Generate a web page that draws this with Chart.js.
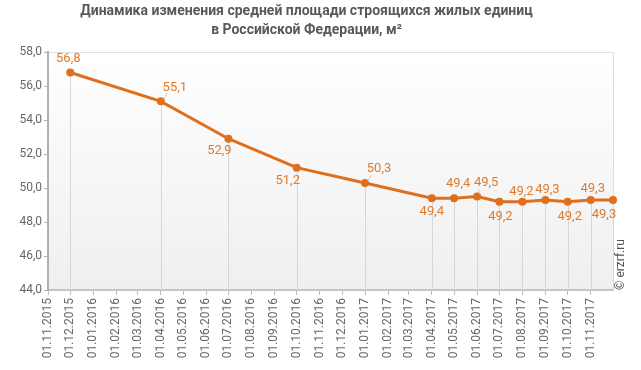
<!DOCTYPE html>
<html lang="ru">
<head>
    <meta charset="UTF-8">
    <title>Динамика изменения средней площади</title>
    <script src="https://cdn.jsdelivr.net/npm/chart.js"></script>
    <style>
        html, body { margin: 0; padding: 0; background: #fff; }
        .wrap { width: 641px; height: 370px; position: relative; }
    </style>
</head>
<body>
    <div class="wrap">
        <canvas id="chart" width="641" height="370"></canvas>
    </div>

    <script>
        // Data
        const tickDates = ['01.11.2015', '01.12.2015', '01.01.2016', '01.02.2016', '01.03.2016', '01.04.2016',
            '01.05.2016', '01.06.2016', '01.07.2016', '01.08.2016', '01.09.2016', '01.10.2016', '01.11.2016',
            '01.12.2016', '01.01.2017', '01.02.2017', '01.03.2017', '01.04.2017', '01.05.2017', '01.06.2017',
            '01.07.2017', '01.08.2017', '01.09.2017', '01.10.2017', '01.11.2017'];
        const pointDates = ['01.12.2015', '01.04.2016', '01.07.2016', '01.10.2016', '01.01.2017', '01.04.2017',
            '01.05.2017', '01.06.2017', '01.07.2017', '01.08.2017', '01.09.2017', '01.10.2017', '01.11.2017', '01.12.2017'];
        const avgArea = [56.8, 55.1, 52.9, 51.2, 50.3, 49.4, 49.4, 49.5, 49.2, 49.2, 49.3, 49.2, 49.3, 49.3];
        const yTicks = [44, 46, 48, 50, 52, 54, 56, 58];

        // label placement offsets (px from the point), and whether a leader line is drawn
        const labelOffsets = [[-2, -14], [14, -14], [-9, 12], [-9, 13], [14, -14], [0, 14], [4, -14], [9, -14],
            [1, 15], [-1, -10], [2, -10], [2, 15], [2, -11], [-9, 15]];
        const leaderLines = [false, true, false, false, true, false, false, true, false, false, false, false, false, false];

        const startDate = '01.11.2015';
        const endDate = '01.12.2017';

        function dayNum(s) {
            const p = s.split('.');
            return Date.UTC(+p[2], +p[1] - 1, +p[0]) / 86400000;
        }
        const points = pointDates.map((d, i) => ({ x: dayNum(d), y: avgArea[i] }));
        const fmt = v => v.toFixed(1).replace('.', ',');

        const orange = '#e06f1c';
        const labelColor = '#e07b2b';

        // background gradient + frame
        const panelPlugin = {
            id: 'panel',
            beforeDraw(chart) {
                const { ctx, chartArea: a } = chart;
                const g = ctx.createLinearGradient(0, a.top, 0, a.bottom);
                g.addColorStop(0, '#ffffff');
                g.addColorStop(1, '#efefef');
                ctx.save();
                ctx.fillStyle = g;
                ctx.fillRect(a.left, a.top, a.right - a.left, a.bottom - a.top);
                ctx.strokeStyle = '#dedede';
                ctx.lineWidth = 1;
                ctx.beginPath();
                ctx.moveTo(a.left, a.top + 0.5);
                ctx.lineTo(a.right + 0.5, a.top + 0.5);
                ctx.lineTo(a.right + 0.5, a.bottom);
                ctx.stroke();
                ctx.restore();
            },
            beforeDatasetsDraw(chart) {
                // vertical drop lines from points to the axis
                const { ctx, chartArea: a } = chart;
                const meta = chart.getDatasetMeta(0);
                ctx.save();
                ctx.strokeStyle = '#d6d6d6';
                ctx.lineWidth = 1;
                meta.data.forEach(pt => {
                    const x = Math.round(pt.x) + 0.5;
                    ctx.beginPath();
                    ctx.moveTo(x, pt.y);
                    ctx.lineTo(x, a.bottom);
                    ctx.stroke();
                });
                ctx.restore();
            },
            afterDatasetsDraw(chart) {
                const { ctx, chartArea: a } = chart;
                const meta = chart.getDatasetMeta(0);
                ctx.save();
                ctx.font = '13px Roboto';
                ctx.textAlign = 'center';
                ctx.textBaseline = 'middle';
                meta.data.forEach((pt, i) => {
                    const [dx, dy] = labelOffsets[i];
                    const lx = pt.x + dx, ly = pt.y + dy;
                    if (leaderLines[i]) {
                        ctx.strokeStyle = '#d0d0d0';
                        ctx.lineWidth = 1;
                        ctx.beginPath();
                        ctx.moveTo(pt.x + 3, pt.y - 2);
                        ctx.lineTo(lx - 8, ly + 6);
                        ctx.stroke();
                    }
                    ctx.fillStyle = labelColor;
                    ctx.fillText(fmt(avgArea[i]), lx, ly);
                });
                // watermark
                ctx.translate(a.right + 8, a.bottom);
                ctx.rotate(-Math.PI / 2);
                ctx.font = '12px Roboto';
                ctx.fillStyle = '#555555';
                ctx.textAlign = 'left';
                ctx.fillText('© erzrf.ru', 0, 0);
                ctx.restore();
            }
        };

        const ctx = document.getElementById('chart').getContext('2d');
        new Chart(ctx, {
            type: 'line',
            data: {
                datasets: [{
                    data: points,
                    borderColor: orange,
                    backgroundColor: orange,
                    borderWidth: 3,
                    pointRadius: 4,
                    pointHoverRadius: 4,
                    pointBorderWidth: 0,
                    tension: 0,
                    clip: false
                }]
            },
            options: {
                responsive: false,
                animation: false,
                events: [],
                layout: { padding: { left: 0, right: 28, top: 0, bottom: 0 } },
                plugins: {
                    legend: { display: false },
                    tooltip: { enabled: false },
                    title: {
                        display: true,
                        text: ['Динамика изменения средней площади строящихся жилых единиц', 'в Российской Федерации, м²'],
                        color: '#595959',
                        font: { family: 'Roboto', size: 14, weight: 'bold', lineHeight: 1.36 },
                        padding: { top: 2, bottom: 12 }
                    }
                },
                scales: {
                    x: {
                        type: 'linear',
                        min: dayNum(startDate),
                        max: dayNum(endDate),
                        afterBuildTicks(scale) {
                            scale.ticks = tickDates.map(d => ({ value: dayNum(d), label: d }));
                        },
                        afterFit(scale) { scale.height = 80; },
                        grid: {
                            display: true,
                            drawOnChartArea: false,
                            drawTicks: true,
                            tickLength: 5,
                            color: '#bdbdbd'
                        },
                        border: { display: true, color: '#c4c4c4', width: 2 },
                        ticks: {
                            autoSkip: false,
                            maxRotation: 90,
                            minRotation: 90,
                            padding: 3,
                            color: '#666666',
                            font: { family: 'Roboto', size: 12 },
                            callback(value) {
                                const i = tickDates.findIndex(d => dayNum(d) === value);
                                return i >= 0 ? tickDates[i] : '';
                            }
                        }
                    },
                    y: {
                        min: 44,
                        max: 58,
                        afterBuildTicks(scale) {
                            scale.ticks = yTicks.map(v => ({ value: v }));
                        },
                        afterFit(scale) { scale.width = 48; },
                        grid: {
                            display: true,
                            drawOnChartArea: false,
                            drawTicks: true,
                            tickLength: 4,
                            color: '#b0b0b0'
                        },
                        border: { display: true, color: '#b0b0b0', width: 2 },
                        ticks: {
                            padding: 2,
                            color: '#666666',
                            font: { family: 'Roboto', size: 12 },
                            callback: v => fmt(v)
                        }
                    }
                }
            },
            plugins: [panelPlugin]
        });
    </script>
</body>
</html>
